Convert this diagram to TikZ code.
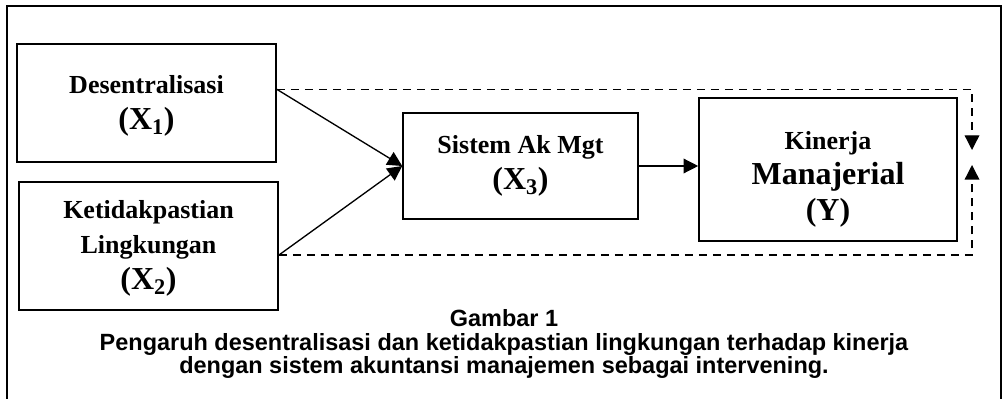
\documentclass[tikz,border=0pt]{standalone}
\usepackage{fontspec}
\setmainfont{Liberation Serif}
\setsansfont{Liberation Sans}
\usetikzlibrary{arrows.meta,positioning}

\newcommand{\besar}[1]{{\fontsize{24}{26.5}\selectfont #1}}

\begin{document}
\begin{tikzpicture}[x=0.75pt,y=-0.75pt,
    box/.style={draw,line width=1.2pt,align=center,inner sep=0pt,
        font=\fontsize{19.5}{26.5}\selectfont\bfseries},
    garis/.style={line width=1pt},
    putus/.style={line width=1pt,dash pattern=on 6pt off 4.5pt},
    >={Triangle[length=11pt,width=11pt]}]
    \useasboundingbox (0,0) rectangle (1003,399);
    \draw [line width=1.2pt] (7,399) -- (7,6) -- (1001,6) -- (1001,399);

    \node [box,minimum width=194.25pt,minimum height=88.5pt] (X1) at (146.5,103)
        {\rule{0pt}{18pt}Desentralisasi\\\besar{(X\textsubscript{1})}};
    \node [box,minimum width=194.25pt,minimum height=96pt] (X2) at (148.5,246)
        {\rule{0pt}{17pt}Ketidakpastian\\Lingkungan\\\besar{(X\textsubscript{2})}};
    \node [box,minimum width=176.25pt,minimum height=79.5pt] (X3) at (520.5,166)
        {Sistem Ak Mgt\\\besar{(X\textsubscript{3})}};
    \node [box,minimum width=193.5pt,minimum height=107.25pt] (Y) at (828,169.5)
        {\rule{0pt}{28pt}Kinerja\\\besar{Manajerial}\\\besar{(Y)}};

    \coordinate (dn) at (972,150);
    \coordinate (up) at (972,165);

    \draw [garis,->] (X1.6) -- (X3.west);
    \draw [garis,->] (X2.-4) -- (X3.west);
    \draw [garis,->] (X3.east) -- (X3.east -| Y.west);
    \draw [putus,->] (X1.6) -| (dn);
    \draw [putus,->] (X2.-4) -| (up);

    \node [align=center,font=\fontsize{17.6}{17.8}\selectfont\sffamily\bfseries] (judul) at (504,344)
        {Gambar 1\\Pengaruh desentralisasi dan ketidakpastian lingkungan terhadap kinerja\\dengan sistem akuntansi manajemen sebagai intervening.};
\end{tikzpicture}
\end{document}
